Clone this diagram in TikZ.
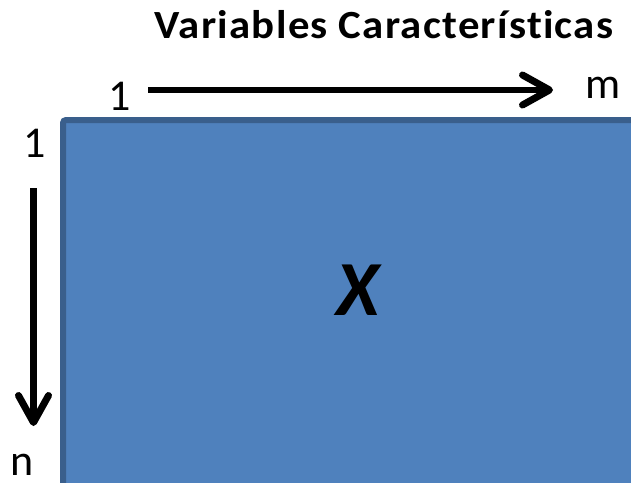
\documentclass[tikz,border=0pt]{standalone}
\usepackage{fontspec}
\setmainfont{Carlito}
\usetikzlibrary{arrows.meta}
\definecolor{boxfill}{HTML}{4F81BD}
\definecolor{boxedge}{HTML}{3A5F8C}
\tikzset{
  lbl/.style={anchor=base, inner sep=0pt, font=\fontsize{44}{48}\selectfont},
  axisarrow/.style={line width=6.5pt, -{Straight Barb[length=27pt, width=30pt, line width=7pt, round]}},
}
\begin{document}
\begin{tikzpicture}[x=1pt, y=-1pt]
\useasboundingbox (0,0) rectangle (631,482);
\fill[white] (0,0) rectangle (631,482);
\draw[boxedge, fill=boxfill, line width=6pt, rounded corners=3pt] (63,120) rectangle (660,510);
\node[anchor=base, inner sep=0pt, font=\fontsize{40}{44}\selectfont\bfseries\addfontfeatures{LetterSpace=3,Ligatures=NoCommon}] (title) at (384,38) {\scalebox{1.07}[1]{Variables Características}};
\node[lbl] (one1) at (120,110) {1};
\node[lbl] (m) at (603,98) {m};
\node[lbl] (one2) at (35,157) {1};
\node[lbl] (n) at (22,475) {n};
\node[anchor=center, inner sep=0pt, font=\fontsize{78}{80}\selectfont\bfseries\itshape] (X) at (358,290) {X};
\coordinate (h1) at (148,90);
\coordinate (h2) at (553,90);
\coordinate (v1) at (33.5,188);
\coordinate (v2) at (33.5,426);
\draw[axisarrow] (h1) -- (h2);
\draw[axisarrow] (v1) -- (v2);
\end{tikzpicture}
\end{document}
